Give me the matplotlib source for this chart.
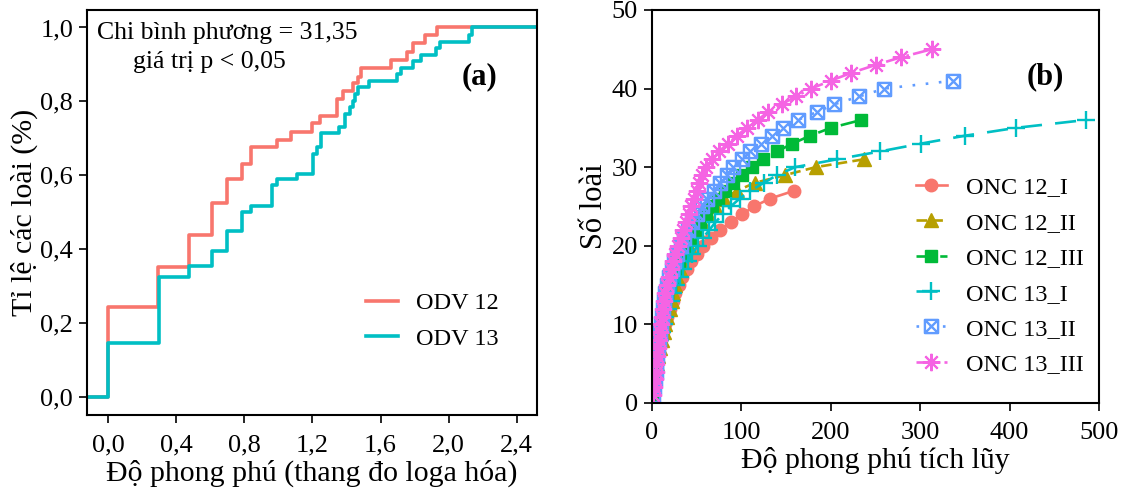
import numpy as np
import matplotlib
matplotlib.use("Agg")
import matplotlib.pyplot as plt
from matplotlib.path import Path

plt.rcParams['font.family'] = ['Liberation Serif', 'DejaVu Serif']

# ---- panel (a): step curves, log-scaled abundance vs proportion of species
odv12_x = [-0.2, 0.0, 0.294, 0.474, 0.607, 0.699, 0.787, 0.838, 0.993, 1.073, 1.199,
           1.246, 1.344, 1.381, 1.44, 1.469, 1.485, 1.661, 1.753, 1.788, 1.861, 1.933, 2.6]
odv12_y = [0.0, 0.243, 0.351, 0.438, 0.524, 0.589, 0.632, 0.676, 0.697, 0.718, 0.741,
           0.761, 0.806, 0.828, 0.849, 0.867, 0.891, 0.912, 0.934, 0.957, 0.979, 1.0, 1.0]
odv13_x = [-0.2, 0.0, 0.298, 0.474, 0.607, 0.699, 0.784, 0.838, 0.96, 0.993, 1.11, 1.204,
           1.224, 1.248, 1.357, 1.391, 1.42, 1.44, 1.451, 1.467, 1.53, 1.698, 1.718, 1.792,
           1.835, 1.925, 1.949, 2.12, 2.135, 2.6]
odv13_y = [0.0, 0.146, 0.324, 0.356, 0.396, 0.449, 0.502, 0.518, 0.574, 0.589, 0.605, 0.658,
           0.677, 0.714, 0.731, 0.766, 0.785, 0.802, 0.82, 0.838, 0.855, 0.874, 0.891, 0.909,
           0.925, 0.945, 0.961, 0.979, 1.0, 1.0]
a_xticks = [0.0, 0.4, 0.8, 1.2, 1.6, 2.0, 2.4]
a_yticks = [0.0, 0.2, 0.4, 0.6, 0.8, 1.0]

# ---- panel (b): cumulative abundance at each added species
onc12_1 = [1, 2, 3, 4, 5, 6, 8, 10, 12, 14, 17, 20, 23, 26, 30, 34, 39, 44, 50, 57,
           66, 76, 88, 101, 114, 132, 159]
onc12_2 = [1, 2, 3, 4, 6, 7, 9, 11, 13, 15, 17, 20, 22, 24, 26, 28, 31, 34, 37, 41,
           45, 50, 56, 63, 70, 81, 95, 115, 149, 183, 237]
onc12_3 = [1, 2, 3, 4, 5, 6, 7, 8, 9, 10, 11, 13, 15, 17, 20, 23, 26, 30, 34, 38,
           43, 48, 54, 60, 67, 74, 82, 91, 101, 112, 124, 140, 157, 177, 200, 234]
onc13_1 = [1, 2, 3, 4, 5, 6, 7, 9, 11, 13, 15, 18, 21, 24, 27, 31, 35, 40, 45, 51,
           57, 64, 71, 79, 88, 98, 110, 125, 140, 160, 207, 255, 301, 350, 407, 485]
onc13_2 = [1, 2, 3, 4, 5, 6, 7, 8, 9, 10, 11, 12, 13, 15, 17, 19, 22, 25, 28, 32,
           36, 40, 45, 50, 56, 62, 69, 76, 84, 91, 101, 110, 122, 134, 147, 163,
           184, 204, 232, 260, 337]
onc13_3 = [1, 2, 3, 4, 5, 6, 7, 8, 9, 10, 11, 12, 13, 15, 17, 19, 21, 23, 26, 29,
           32, 35, 38, 41, 44, 47, 50, 53, 56, 60, 67, 75, 85, 95, 106, 118, 130,
           145, 161, 178, 200, 223, 250, 279, 313]
labels_b = ["ONC 12_I", "ONC 12_II", "ONC 12_III", "ONC 13_I", "ONC 13_II", "ONC 13_III"]

colors_b = ["#F8766D", "#B79F00", "#00BA38", "#00BFC4", "#619CFF", "#F564E3"]

# square with a cross inside (ggplot shape 7)
boxx = Path([(-1, -1), (1, -1), (1, 1), (-1, 1), (-1, -1), (-1, -1), (1, 1), (-1, 1), (1, -1)],
            [Path.MOVETO, Path.LINETO, Path.LINETO, Path.LINETO, Path.CLOSEPOLY,
             Path.MOVETO, Path.LINETO, Path.MOVETO, Path.LINETO])

styles = [
    dict(ls='-', marker='o', ms=9, mfc=colors_b[0], mec=colors_b[0]),
    dict(ls=(0, (4, 2)), marker='^', ms=10, mfc=colors_b[1], mec=colors_b[1]),
    dict(ls=(0, (6, 3)), marker='s', ms=9, mfc=colors_b[2], mec=colors_b[2]),
    dict(ls=(0, (8, 5)), marker='+', ms=13, mew=1.7, mec=colors_b[3]),
    dict(ls=(0, (1, 4)), marker=boxx, ms=9.5, mew=1.7, mfc='none', mec=colors_b[4]),
    dict(ls='-.', marker=(8, 2, 0), ms=12.5, mew=1.5, mec=colors_b[5]),
]

fig = plt.figure(figsize=(11.29, 4.95), dpi=100)
ax1 = fig.add_axes([0.0771, 0.1616, 0.3986, 0.818])
ax2 = fig.add_axes([0.5775, 0.1859, 0.3960, 0.794])

ax1.step(odv12_x, odv12_y, where='post', color="#F8766D", lw=2.6, label="ODV 12")
ax1.step(odv13_x, odv13_y, where='post', color="#00BFC4", lw=2.6, label="ODV 13")
ax1.set_xlim(-0.125, 2.52)
ax1.set_ylim(-0.048, 1.047)
ax1.set_xticks(a_xticks)
ax1.set_xticklabels([f"{v:.1f}".replace('.', ',') for v in a_xticks])
ax1.set_yticks(a_yticks)
ax1.set_yticklabels([f"{v:.1f}".replace('.', ',') for v in a_yticks])
ax1.set_xlabel("Độ phong phú (thang đo loga hóa)", fontsize=21.5, labelpad=2)
ax1.set_ylabel("Tỉ lệ các loài (%)", fontsize=21.5, labelpad=2)
ax1.text(0.0216, 0.943, "Chi bình phương = 31,35", transform=ax1.transAxes,
         fontsize=18.5, ha='left', va='center')
ax1.text(0.1016, 0.872, "giá trị p < 0,05", transform=ax1.transAxes,
         fontsize=18.5, ha='left', va='center')
ax1.text(0.873, 0.835, "(a)", transform=ax1.transAxes, fontsize=22,
         fontweight='bold', ha='center', va='center')
ax1.legend(loc='center left', bbox_to_anchor=(0.62, 0.232), frameon=False,
           borderpad=0, borderaxespad=0, fontsize=17.5, handlelength=1.3,
           handletextpad=0.75, labelspacing=0.56)

for xs, lab, col, st in zip([onc12_1, onc12_2, onc12_3, onc13_1, onc13_2, onc13_3],
                            labels_b, colors_b, styles):
    species = np.arange(1, len(xs) + 1)
    ax2.plot(xs, species, color=col, lw=1.9, label=lab, **st)

ax2.set_xlim(0, 500)
ax2.set_ylim(0, 50)
ax2.set_xticks([0, 100, 200, 300, 400, 500])
ax2.set_yticks([0, 10, 20, 30, 40, 50])
ax2.set_xlabel("Độ phong phú tích lũy", fontsize=21.5, labelpad=2)
ax2.set_ylabel("Số loài", fontsize=22, labelpad=2)
ax2.text(0.879, 0.830, "(b)", transform=ax2.transAxes, fontsize=22,
         fontweight='bold', ha='center', va='center')
ax2.legend(loc='center left', bbox_to_anchor=(0.591, 0.3234), frameon=False,
           borderpad=0, borderaxespad=0, fontsize=17.5, handlelength=1.25,
           handletextpad=0.78, labelspacing=0.55)

for ax in (ax1, ax2):
    for sp in ax.spines.values():
        sp.set_linewidth(1.5)
    ax.tick_params(direction='out', length=6, width=1.2, labelsize=19)
    ax.tick_params(axis='x', pad=8)
    ax.tick_params(axis='y', pad=4)

fig.savefig("out.png", dpi=100)
